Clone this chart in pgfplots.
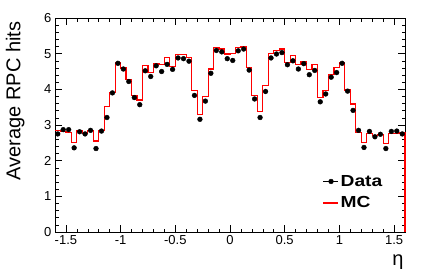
\documentclass[border=0pt]{standalone}
\usepackage{pgfplots}
\pgfplotsset{compat=1.18}
\usepackage{fontspec}
\setmainfont{Liberation Sans}
\newfontfamily\legfont[FakeStretch=1.2]{Liberation Sans Bold}
\pgfplotsset{
  datalegend/.style={legend image code/.code={
    \draw[black, line width=1pt] (0pt,0pt) -- (15pt,0pt); \fill[black] (8pt,0pt) circle (2.4pt);}},
  mclegend/.style={legend image code/.code={
    \draw[red, line width=1.2pt] (0pt,0pt) -- (15pt,0pt);}}
}
\begin{document}
\begin{tikzpicture}
\useasboundingbox (-55pt,-36pt) rectangle (372pt,232pt);
\begin{axis}[
  scale only axis, width=350pt, height=214pt,
  at={(0pt,0pt)}, anchor=south west,
  xmin=-1.6, xmax=1.6, ymin=0, ymax=6,
  xtick={-1.5,-1,-0.5,0,0.5,1,1.5},
  xticklabels={-1.5,-1,-0.5,0,0.5,1,1.5},
  ytick={0,1,2,3,4,5,6},
  yticklabels={0,1,2,3,4,5,6},
  minor x tick num=4, minor y tick num=4,
  major tick length=7pt, minor tick length=3.5pt,
  tick style={black, line width=0.6pt},
  axis line style={line width=1pt},
  tick label style={font=\fontsize{13}{15}\selectfont},
  /pgf/number format/assume math mode=true,
  clip=false,
  ylabel={Average RPC hits},
  every axis y label/.style={at={(axis description cs:-0.114,1)}, anchor=east, rotate=90, font=\fontsize{20}{24}\selectfont},
  xlabel={η},
  every axis x label/.style={at={(axis description cs:0.98,-0.14)}, anchor=center, font=\fontsize{20}{24}\selectfont},
  legend style={draw=none, fill=none, at={(axis description cs:0.755,0.285)}, anchor=north west,
    font=\fontsize{16}{18}\legfont, row sep=5pt},
  legend cell align=left,
]
\addplot[red, line width=1.2pt, const plot, forget plot] coordinates {
(-1.6,2.85) (-1.55,2.82) (-1.5,2.80) (-1.45,2.51) (-1.4,2.83) (-1.35,2.76) (-1.3,2.85) (-1.25,2.55)
(-1.2,2.85) (-1.15,3.53) (-1.1,3.91) (-1.05,4.75) (-1.0,4.60) (-0.95,4.28) (-0.9,3.83) (-0.85,3.70)
(-0.8,4.66) (-0.75,4.47) (-0.7,4.72) (-0.65,4.69) (-0.6,4.89) (-0.55,4.65) (-0.5,4.98) (-0.45,4.98)
(-0.4,4.89) (-0.35,3.97) (-0.3,3.30) (-0.25,3.80) (-0.2,4.57) (-0.15,5.17) (-0.1,5.13) (-0.05,4.99)
(0.0,5.00) (0.05,5.17) (0.1,5.21) (0.15,4.61) (0.2,3.83) (0.25,3.38) (0.3,4.11) (0.35,5.00)
(0.4,5.09) (0.45,5.13) (0.5,4.75) (0.55,4.95) (0.6,4.70) (0.65,4.77) (0.7,4.56) (0.75,4.70)
(0.8,3.76) (0.85,3.97) (0.9,4.42) (0.95,4.61) (1.0,4.75) (1.05,3.98) (1.1,3.59) (1.15,2.78)
(1.2,2.51) (1.25,2.77) (1.3,2.71) (1.35,2.74) (1.4,2.48) (1.45,2.77) (1.5,2.77) (1.55,2.80)
(1.6,0)
};
\addplot[black, only marks, mark=*, mark size=2.4pt, forget plot] coordinates {
(-1.575,2.75) (-1.525,2.87) (-1.475,2.87) (-1.425,2.36) (-1.375,2.81) (-1.325,2.75) (-1.275,2.85) (-1.225,2.34)
(-1.175,2.83) (-1.125,3.21) (-1.075,3.90) (-1.025,4.73) (-0.975,4.57) (-0.925,4.22) (-0.875,3.77) (-0.825,3.57)
(-0.775,4.52) (-0.725,4.36) (-0.675,4.66) (-0.625,4.50) (-0.575,4.70) (-0.525,4.56) (-0.475,4.88) (-0.425,4.86)
(-0.375,4.79) (-0.325,3.83) (-0.275,3.16) (-0.225,3.67) (-0.175,4.45) (-0.125,5.09) (-0.075,5.05) (-0.025,4.86)
(0.025,4.81) (0.075,5.08) (0.125,5.13) (0.175,4.54) (0.225,3.73) (0.275,3.21) (0.325,3.94) (0.375,4.88)
(0.425,4.99) (0.475,5.03) (0.525,4.69) (0.575,4.80) (0.625,4.57) (0.675,4.72) (0.725,4.41) (0.775,4.53)
(0.825,3.65) (0.875,3.87) (0.925,4.34) (0.975,4.47) (1.025,4.73) (1.075,3.95) (1.125,3.41) (1.175,2.85)
(1.225,2.37) (1.275,2.82) (1.325,2.67) (1.375,2.74) (1.425,2.34) (1.475,2.82) (1.525,2.83) (1.575,2.75)
};
\addlegendimage{datalegend}
\addlegendentry{Data}
\addlegendimage{mclegend}
\addlegendentry{MC}
\end{axis}
\end{tikzpicture}
\end{document}
